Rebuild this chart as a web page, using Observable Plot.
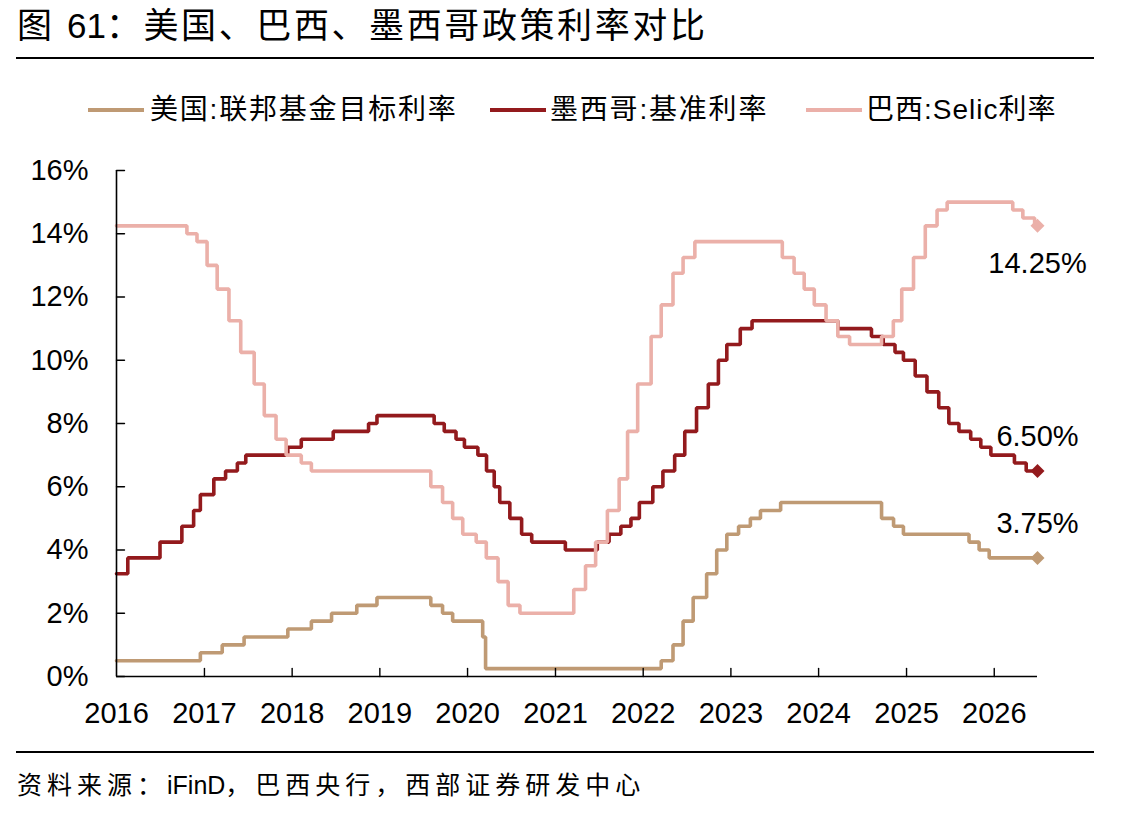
<!DOCTYPE html>
<html>
<head>
<meta charset="utf-8">
<script src="https://cdn.jsdelivr.net/npm/d3@7"></script>
<script src="https://cdn.jsdelivr.net/npm/@observablehq/plot@0.6"></script>
<style>
  html, body { margin: 0; padding: 0; background: #fff; }
  #wrap { position: relative; width: 1144px; height: 817px; overflow: hidden;
          font-family: "Liberation Sans", "Noto Sans CJK SC", sans-serif; color: #000; }
  .abs { position: absolute; white-space: nowrap; line-height: 1; }
  .lat { letter-spacing: 0; }
  #title { left: 17px; top: 8px; font-size: 35px; letter-spacing: 2.6px; }
  .rule { position: absolute; left: 16px; width: 1078px; height: 2px; background: #000; }
  .legtxt { top: 96px; font-size: 28px; letter-spacing: 1.8px; }
  .sw { position: absolute; top: 108px; width: 56px; height: 4px; }
  #source { left: 17px; top: 773px; font-size: 25px; letter-spacing: 5px; }
  #chart { position: absolute; left: 0; top: 140px; }
</style>
</head>
<body>
<div id="wrap">
  <div id="title" class="abs">图 <span class="lat">61</span>：美国、巴西、墨西哥政策利率对比</div>
  <div class="rule" style="top:57px"></div>
  <div id="legend"></div>
  <div id="chart"></div>
  <div class="rule" style="top:751px"></div>
  <div id="source" class="abs">资料来源：<span class="lat">iFinD</span>，巴西央行，西部证券研发中心</div>
</div>
<script>
// ---------- data ----------
const seriesNames = ["美国:联邦基金目标利率", "墨西哥:基准利率", "巴西:Selic利率"];
const seriesColors = ["#BF9A74", "#931A1D", "#EBB0A9"];

const usDates = ["2016-01-01","2016-12-15","2017-03-16","2017-06-15","2017-12-14","2018-03-22","2018-06-14","2018-09-27","2018-12-20","2019-08-01","2019-09-19","2019-10-31","2020-03-04","2020-03-16","2022-03-17","2022-05-05","2022-06-16","2022-07-28","2022-09-22","2022-11-03","2022-12-15","2023-02-02","2023-03-23","2023-05-04","2023-07-27","2024-09-19","2024-11-08","2024-12-19","2025-09-18","2025-10-30","2025-12-11","2026-06-30"];
const usRates = [0.50,0.75,1.00,1.25,1.50,1.75,2.00,2.25,2.50,2.25,2.00,1.75,1.25,0.25,0.50,1.00,1.75,2.50,3.25,4.00,4.50,4.75,5.00,5.25,5.50,5.00,4.75,4.50,4.25,4.00,3.75,3.75];

const mxDates = ["2016-01-01","2016-02-17","2016-06-30","2016-09-29","2016-11-17","2016-12-15","2017-02-09","2017-03-30","2017-05-18","2017-06-22","2017-12-14","2018-02-08","2018-06-21","2018-11-15","2018-12-20","2019-08-15","2019-09-26","2019-11-14","2019-12-19","2020-02-13","2020-03-20","2020-04-21","2020-05-14","2020-06-25","2020-08-13","2020-09-24","2021-02-11","2021-06-24","2021-08-12","2021-09-30","2021-11-11","2021-12-16","2022-02-10","2022-03-24","2022-05-12","2022-06-23","2022-08-11","2022-09-29","2022-11-10","2022-12-15","2023-02-09","2023-03-30","2024-03-21","2024-08-08","2024-09-26","2024-11-14","2024-12-19","2025-02-06","2025-03-27","2025-05-15","2025-06-26","2025-08-07","2025-09-25","2025-11-06","2025-12-18","2026-03-26","2026-05-14","2026-06-30"];
const mxRates = [3.25,3.75,4.25,4.75,5.25,5.75,6.25,6.50,6.75,7.00,7.25,7.50,7.75,8.00,8.25,8.00,7.75,7.50,7.25,7.00,6.50,6.00,5.50,5.00,4.50,4.25,4.00,4.25,4.50,4.75,5.00,5.50,6.00,6.50,7.00,7.75,8.50,9.25,10.00,10.50,11.00,11.25,11.00,10.75,10.50,10.25,10.00,9.50,9.00,8.50,8.00,7.75,7.50,7.25,7.00,6.75,6.50,6.50];

const brDates = ["2016-01-01","2016-10-20","2016-12-01","2017-01-12","2017-02-23","2017-04-13","2017-06-01","2017-07-27","2017-09-07","2017-10-26","2017-12-07","2018-02-08","2018-03-22","2019-08-01","2019-09-19","2019-10-31","2019-12-12","2020-02-06","2020-03-19","2020-05-07","2020-06-18","2020-08-06","2021-03-18","2021-05-06","2021-06-17","2021-08-05","2021-09-23","2021-10-28","2021-12-09","2022-02-03","2022-03-17","2022-05-05","2022-06-16","2022-08-04","2023-08-03","2023-09-21","2023-11-02","2023-12-14","2024-02-01","2024-03-21","2024-05-09","2024-09-19","2024-11-07","2024-12-12","2025-01-30","2025-03-20","2025-05-08","2025-06-19","2026-03-19","2026-04-30","2026-06-18","2026-06-30"];
const brRates = [14.25,14.00,13.75,13.00,12.25,11.25,10.25,9.25,8.25,7.50,7.00,6.75,6.50,6.00,5.50,5.00,4.50,4.25,3.75,3.00,2.25,2.00,2.75,3.50,4.25,5.25,6.25,7.75,9.25,10.75,11.75,12.75,13.25,13.75,13.25,12.75,12.25,11.75,11.25,10.75,10.50,10.75,11.25,12.25,13.25,14.25,14.75,15.00,14.75,14.50,14.25,14.25];

const yTickValues = [0, 2, 4, 6, 8, 10, 12, 14, 16];
const xTickYears = [2016, 2017, 2018, 2019, 2020, 2021, 2022, 2023, 2024, 2025, 2026];
const xDomain = ["2016-01-01", "2026-06-30"];
const endLabels = ["3.75%", "6.50%", "14.25%"];

// ---------- build ----------
const parse = d3.utcParse("%Y-%m-%d");
const mk = (dates, rates, s) => dates.map((d, i) => ({date: parse(d), rate: rates[i], series: s}));
const us = mk(usDates, usRates, seriesNames[0]);
const mx = mk(mxDates, mxRates, seriesNames[1]);
const br = mk(brDates, brRates, seriesNames[2]);
const all = [...us, ...mx, ...br];
const x0 = parse(xDomain[0]), x1 = parse(xDomain[1]);
const yearDates = xTickYears.map(y => new Date(Date.UTC(y, 0, 1)));

// legend
const legend = document.getElementById("legend");
const legPos = [[88, 150], [490, 550], [806, 866]];
const legSpacing = ["1.8px", "1.8px", "1px"];
seriesNames.forEach((n, i) => {
  const sw = document.createElement("div");
  sw.className = "sw";
  sw.style.left = legPos[i][0] + "px";
  sw.style.background = seriesColors[i];
  legend.appendChild(sw);
  const t = document.createElement("div");
  t.className = "abs legtxt";
  t.style.left = legPos[i][1] + "px";
  t.style.letterSpacing = legSpacing[i];
  t.textContent = n;
  legend.appendChild(t);
});

const tickShape = { draw(ctx, l) { ctx.moveTo(0, 0); ctx.lineTo(0, -l); } };
const last = arr => [arr[arr.length - 1]];
const font = "Liberation Sans, Arial, sans-serif";

const plot = Plot.plot({
  width: 1144,
  height: 600,
  marginTop: 30,
  marginBottom: 64,
  marginLeft: 116,
  marginRight: 107,
  style: { fontFamily: font, fontSize: "29px", color: "#000", background: "transparent", overflow: "visible" },
  x: { type: "utc", domain: [x0, x1] },
  y: { domain: [0, 16] },
  color: { domain: seriesNames, range: seriesColors },
  marks: [
    Plot.axisX({ ticks: yearDates, tickFormat: d3.utcFormat("%Y"), tickSize: 0, tickPadding: 26, fontSize: 29, fontFamily: font, label: null }),
    Plot.axisY({ ticks: yTickValues, tickFormat: d => d + "%", tickSize: 0, tickPadding: 28, fontSize: 29, fontFamily: font, label: null }),
    Plot.line(all, { x: "date", y: "rate", z: "series", stroke: "series", strokeWidth: 3.6, curve: "step-after", strokeLinejoin: "miter" }),
    Plot.dot([...last(us), ...last(mx), ...last(br)], { x: "date", y: "rate", fill: "series", symbol: "square", r: 5.6, rotate: 45 }),
    Plot.text(last(us), { x: "date", y: "rate", text: () => endLabels[0], dy: -34, fontSize: 29, fontFamily: font, fill: "#000" }),
    Plot.text(last(mx), { x: "date", y: "rate", text: () => endLabels[1], dy: -34, fontSize: 29, fontFamily: font, fill: "#000" }),
    Plot.text(last(br), { x: "date", y: "rate", text: () => endLabels[2], dy: 38, fontSize: 29, fontFamily: font, fill: "#000" }),
    Plot.ruleX([x0], { stroke: "#000", strokeWidth: 1.6 }),
    Plot.ruleY([0], { stroke: "#000", strokeWidth: 1.6 }),
    Plot.vector(yTickValues, { x: () => x0, y: d => d, length: 8, rotate: 90, anchor: "start", shape: tickShape, stroke: "#000", strokeWidth: 1.4 }),
    Plot.vector(yearDates.slice(1), { x: d => d, y: () => 0, length: 8, rotate: 0, anchor: "start", shape: tickShape, stroke: "#000", strokeWidth: 1.4 })
  ]
});
document.getElementById("chart").appendChild(plot);
</script>
</body>
</html>
